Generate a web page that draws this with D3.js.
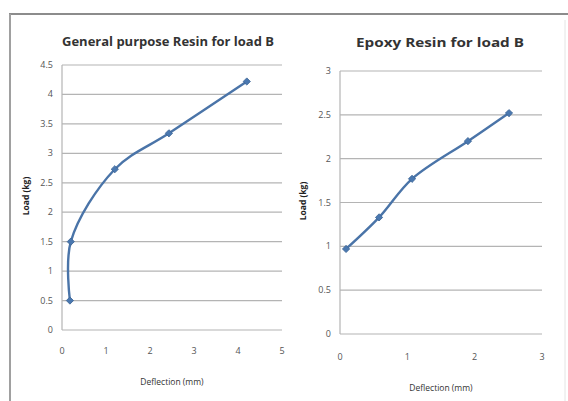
<!DOCTYPE html>
<html><head><meta charset="utf-8">
<script src="https://cdn.jsdelivr.net/npm/d3@7"></script>
<style>body{margin:0;background:#fff}svg{display:block}text{font-family:"Open Sans","DejaVu Sans",sans-serif}</style>
</head><body>
<svg id="c" width="568" height="401"></svg>
<script>
const gpDeflection = [0.18, 0.2, 1.2, 2.43, 4.2];
const gpLoad = [0.5, 1.5, 2.73, 3.34, 4.22];
const epDeflection = [0.09, 0.58, 1.07, 1.9, 2.51];
const epLoad = [0.97, 1.33, 1.77, 2.2, 2.52];
const gpXTicks = [0, 1, 2, 3, 4, 5];
const gpYTicks = [0, 0.5, 1, 1.5, 2, 2.5, 3, 3.5, 4, 4.5];
const epXTicks = [0, 1, 2, 3];
const epYTicks = [0, 0.5, 1, 1.5, 2, 2.5, 3];
const titles = ["General purpose Resin for load B", "Epoxy Resin for load B"];
const xTitle = "Deflection (mm)";
const yTitle = "Load (kg)";

const svg = d3.select("#c");
// frame
svg.append("line").attr("x1",9).attr("x2",568).attr("y1",14).attr("y2",14).attr("stroke","#8c8c8c").attr("stroke-width",2);
svg.append("line").attr("x1",10).attr("x2",10).attr("y1",14).attr("y2",401).attr("stroke","#a0a0a0").attr("stroke-width",2);
svg.append("line").attr("x1",565).attr("x2",565).attr("y1",20).attr("y2",401).attr("stroke","#e4e4e4").attr("stroke-width",1);

function chart(o){
  const x = d3.scaleLinear().domain([0, d3.max(o.xt)]).range([o.x0, o.x1]);
  const y = d3.scaleLinear().domain([0, d3.max(o.yt)]).range([o.y0, o.y1]);
  const g = svg.append("g");
  g.selectAll(".grid").data(o.yt).join("line")
    .attr("x1",o.x0).attr("x2",o.x1).attr("y1",d=>y(d)).attr("y2",d=>y(d))
    .attr("stroke","#b4b4b4").attr("stroke-width",1.2);
  g.append("line").attr("x1",o.x0).attr("x2",o.x0).attr("y1",o.y0).attr("y2",o.y1).attr("stroke","#b4b4b4").attr("stroke-width",1.2);
  g.selectAll(".yl").data(o.yt).join("text")
    .attr("x",o.x0-9).attr("y",d=>y(d)+3).attr("text-anchor","end")
    .attr("font-size",9).attr("fill","#555").text(d=>d);
  g.selectAll(".xl").data(o.xt).join("text")
    .attr("x",d=>x(d)).attr("y",o.y0+o.xlOff).attr("text-anchor","middle")
    .attr("font-size",9).attr("fill","#555").text(d=>d);
  g.append("text").attr("x",o.tx).attr("y",o.ty).attr("text-anchor","middle")
    .attr("font-size",12.5).attr("font-weight","bold").attr("fill","#333")
    .attr("textLength",o.tw).attr("lengthAdjust","spacingAndGlyphs").text(o.title);
  g.append("text").attr("x",(o.x0+o.x1)/2).attr("y",o.y0+o.xtOff).attr("text-anchor","middle")
    .attr("font-size",8.5).attr("fill","#333").text(xTitle);
  g.append("text").attr("transform",`translate(${o.ylx},${o.yly}) rotate(-90)`).attr("text-anchor","middle")
    .attr("font-size",8.5).attr("font-weight","bold").attr("fill","#222").text(yTitle);
  const pts = o.xs.map((d,i)=>[d,o.ys[i]]);
  g.append("path").datum(pts)
    .attr("d", d3.line().x(d=>x(d[0])).y(d=>y(d[1])).curve(d3.curveCatmullRom.alpha(0.5)))
    .attr("fill","none").attr("stroke","#4a74a8").attr("stroke-width",2.4);
  g.selectAll(".pt").data(pts).join("path")
    .attr("transform",d=>`translate(${x(d[0])},${y(d[1])}) rotate(45)`)
    .attr("d", d3.symbol(d3.symbolSquare, 26))
    .attr("fill","#4a78b0").attr("stroke","#3d6596").attr("stroke-width",0.8);
}

chart({xs:gpDeflection, ys:gpLoad, xt:gpXTicks, yt:gpYTicks, x0:62, x1:282, y0:330, y1:65,
  title:titles[0], tx:168, ty:46, tw:212, xlOff:24, xtOff:55, ylx:29, yly:196});
chart({xs:epDeflection, ys:epLoad, xt:epXTicks, yt:epYTicks, x0:340, x1:542, y0:334, y1:71,
  title:titles[1], tx:440, ty:47, tw:168, xlOff:26, xtOff:57, ylx:306, yly:201});
</script>
</body></html>
